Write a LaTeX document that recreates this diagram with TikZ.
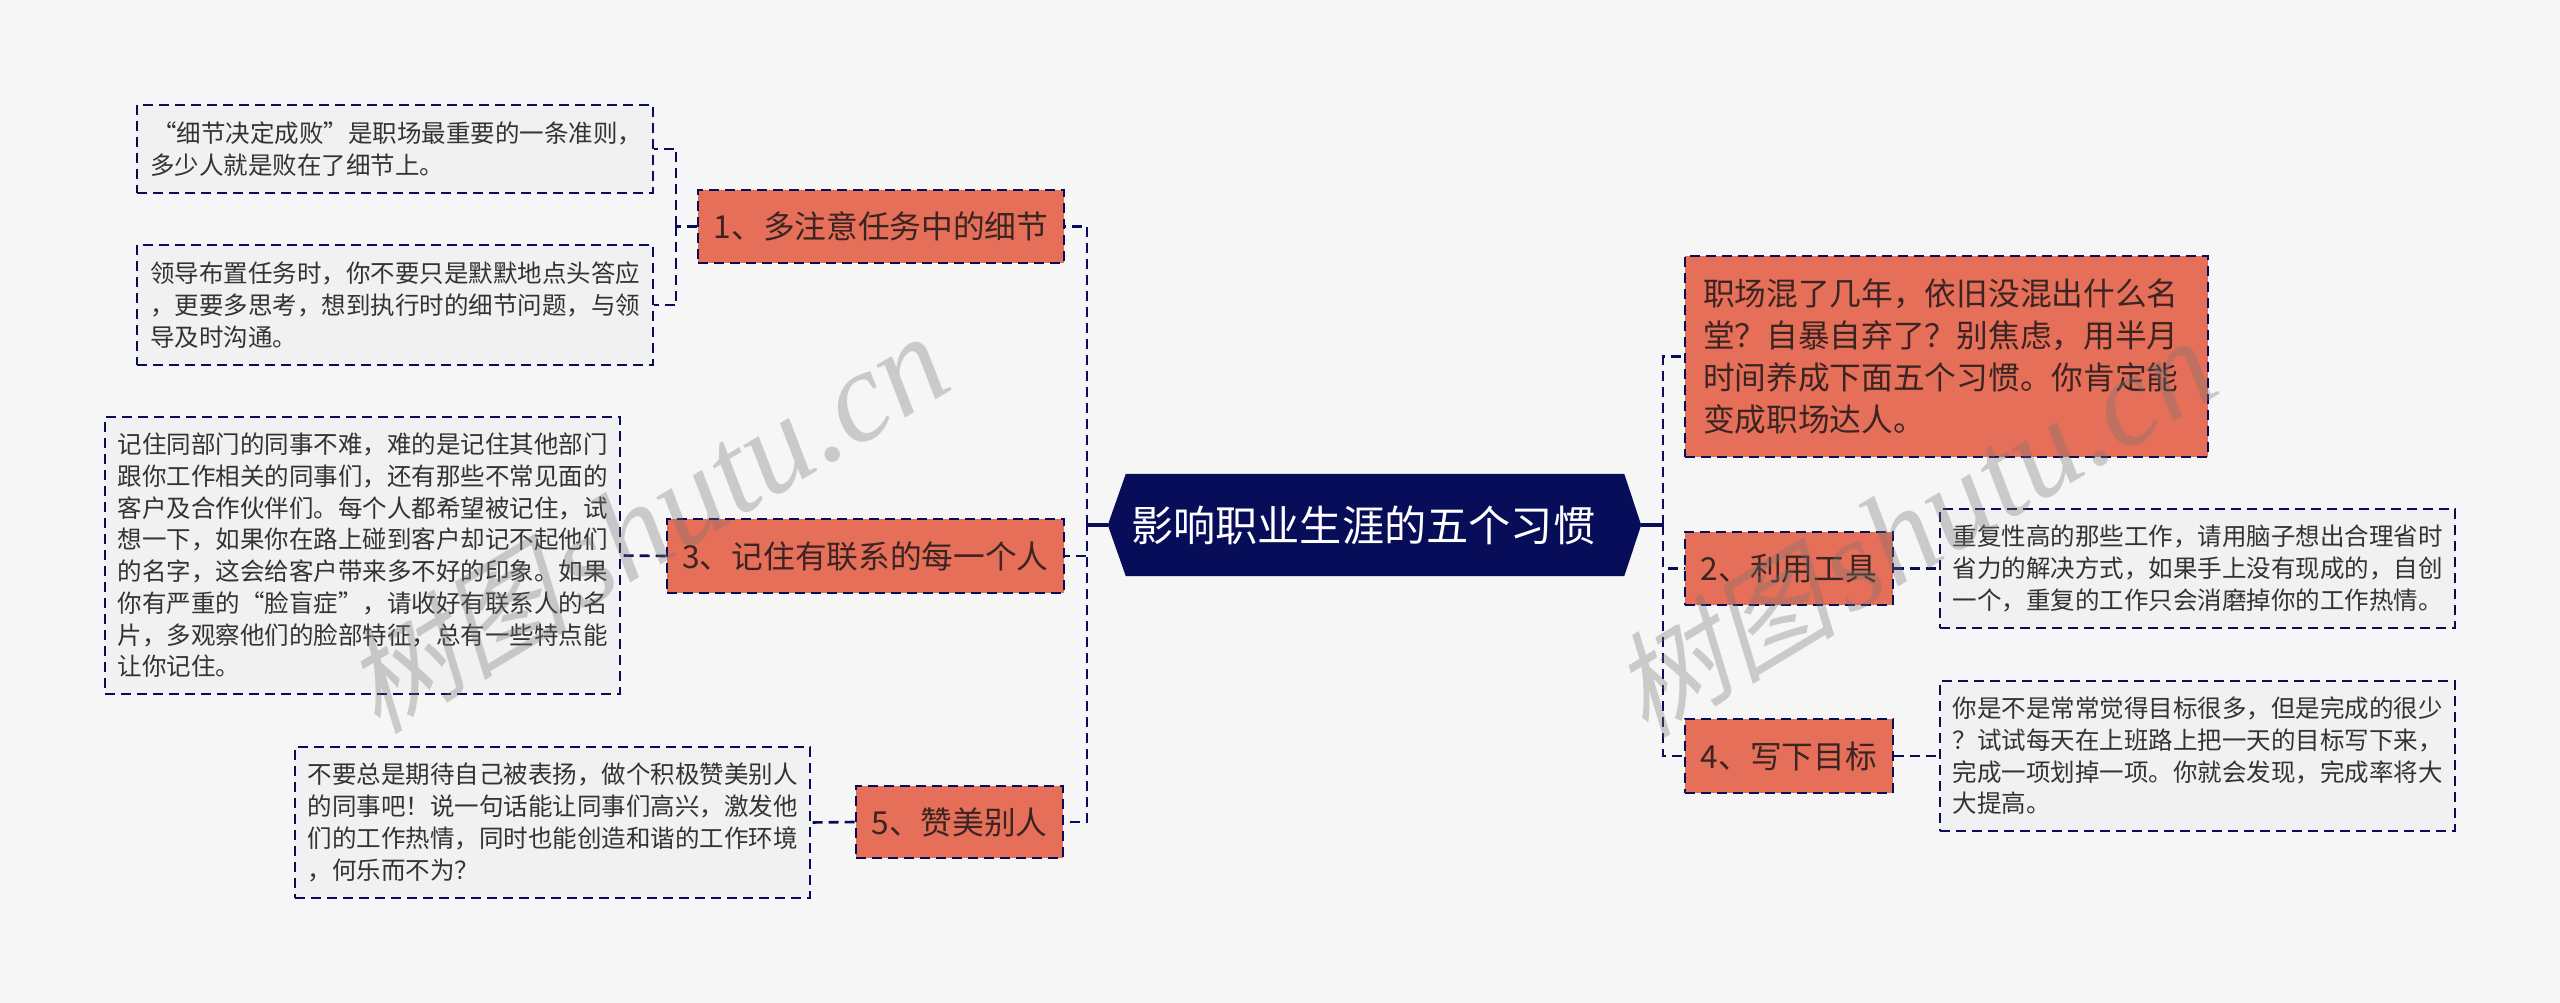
\documentclass[tikz,border=0pt]{standalone}
\usepackage{fontspec}
\setmainfont{Noto Sans CJK SC}
\newfontfamily\wmlatin{Liberation Serif}
\newfontfamily\wmcjk[FakeSlant=0.25]{Noto Sans CJK SC}
\usetikzlibrary{backgrounds}
\definecolor{pagebg}{HTML}{F6F6F6}
\definecolor{navy}{HTML}{070D59}
\definecolor{coral}{HTML}{E56F59}
\definecolor{notebg}{HTML}{F1F1F1}
\definecolor{bodyink}{HTML}{333333}
\definecolor{headink}{HTML}{3B2422}
\tikzset{
  dashline/.style={draw=navy,line width=2.6pt,dash pattern=on 10pt off 6pt},
  notebox/.style={dashline,fill=notebg,text=bodyink,inner sep=0pt,align=left,font=\fontsize{24.5}{31.7}\selectfont},
  headbox/.style={dashline,fill=coral,text=headink,inner sep=0pt,align=center,font=\fontsize{31.7}{42}\selectfont},
  rootbox/.style={text=white,inner sep=0pt,align=left,text width=487pt,minimum width=533pt,minimum height=102pt,font=\fontsize{42.2}{50}\selectfont},
  link/.style={dashline},
  stem/.style={navy,line width=4pt},
  watermark/.style={text=black!55,opacity=.33,rotate=31,inner sep=0pt}
}
\begin{document}
\begin{tikzpicture}[x=1pt,y=-1pt]
\useasboundingbox (0,0) rectangle (2560,1003);

\node[rootbox] (root) at (1374.5,525) {影响职业生涯的五个习惯};
\begin{pgfonlayer}{background}
\fill[pagebg] (0,0) rectangle (2560,1003);
\fill[navy] (root.west) -- ([xshift=18pt]root.north west) -- ([xshift=-17pt]root.north east) -- (root.east) -- ([xshift=-17pt]root.south east) -- ([xshift=18pt]root.south west) -- cycle;
\end{pgfonlayer}

\node[headbox,minimum width=366pt,minimum height=73pt] (n1) at (881,226.5) {1、多注意任务中的细节};
\node[headbox,minimum width=397pt,minimum height=74pt] (n3) at (865.5,556) {3、记住有联系的每一个人};
\node[headbox,minimum width=207pt,minimum height=72pt] (n5) at (959.5,822) {5、赞美别人};
\node[headbox,minimum width=523pt,minimum height=201pt,align=left,text width=487pt] (intro) at (1946.5,356.5) {职场混了几年，依旧没混出什么名\\堂？自暴自弃了？别焦虑，用半月\\时间养成下面五个习惯。你肯定能\\变成职场达人。};
\node[headbox,minimum width=208pt,minimum height=73pt] (n2) at (1789,568.5) {2、利用工具};
\node[headbox,minimum width=208pt,minimum height=74pt] (n4) at (1789,756) {4、写下目标};

\node[notebox,minimum width=516pt,minimum height=88pt,text width=490pt] (a) at (395,149) {\hspace*{2pt}“细节决定成败”是职场最重要的一条准则，\\多少人就是败在了细节上。};
\node[notebox,minimum width=516pt,minimum height=120pt,text width=490pt] (b) at (395,305) {领导布置任务时，你不要只是默默地点头答应\\，更要多思考，想到执行时的细节问题，与领\\导及时沟通。};
\node[notebox,minimum width=515pt,minimum height=277pt,text width=490pt] (c) at (362.5,555.5) {记住同部门的同事不难，难的是记住其他部门\\跟你工作相关的同事们，还有那些不常见面的\\客户及合作伙伴们。每个人都希望被记住，试\\想一下，如果你在路上碰到客户却记不起他们\\的名字，这会给客户带来多不好的印象。如果\\你有严重的“脸盲症”，请收好有联系人的名\\片，多观察他们的脸部特征，总有一些特点能\\让你记住。};
\node[notebox,minimum width=515pt,minimum height=151pt,text width=490pt] (e) at (552.5,822.5) {不要总是期待自己被表扬，做个积极赞美别人\\的同事吧！说一句话能让同事们高兴，激发他\\们的工作热情，同时也能创造和谐的工作环境\\，何乐而不为？};
\node[notebox,minimum width=515pt,minimum height=119pt,text width=490pt] (d) at (2197.5,568.5) {重复性高的那些工作，请用脑子想出合理省时\\省力的解决方式，如果手上没有现成的，自创\\一个，重复的工作只会消磨掉你的工作热情。};
\node[notebox,minimum width=515pt,minimum height=150pt,text width=490pt] (f) at (2197.5,756) {你是不是常常觉得目标很多，但是完成的很少\\？试试每天在上班路上把一天的目标写下来，\\完成一项划掉一项。你就会发现，完成率将大\\大提高。};

\coordinate (trunkL) at (1087,525);
\coordinate (trunkR) at (1663,525);
\coordinate (brk1) at (676,226.5);

\draw[stem] (root.west) -- (trunkL);
\draw[stem] (root.east) -- (trunkR);
\draw[link] (trunkL) |- (n1.east);
\draw[link] (trunkL) |- (n3.east);
\draw[link] (trunkL) |- (n5.east);
\draw[link] (trunkR) |- (intro.west);
\draw[link] (trunkR) |- (n2.west);
\draw[link] (trunkR) |- (n4.west);
\draw[link] (n1.west) -- (brk1);
\draw[link] (brk1) |- (a.east);
\draw[link] (brk1) |- (b.east);
\draw[link] (n3.west) -- (c.east);
\draw[link] (n5.west) -- (e.east);
\draw[link] (n2.east) -- (d.west);
\draw[link] (n4.east) -- (f.west);

\node[watermark] (wmL) at (645,524) {\fontsize{114}{120}\selectfont\wmcjk 树图\hspace{12pt}\fontsize{130}{120}\selectfont\wmlatin\itshape shutu.cn};
\node[watermark] (wmR) at (1913,528) {\fontsize{114}{120}\selectfont\wmcjk 树图\hspace{12pt}\fontsize{130}{120}\selectfont\wmlatin\itshape shutu.cn};
\end{tikzpicture}
\end{document}
